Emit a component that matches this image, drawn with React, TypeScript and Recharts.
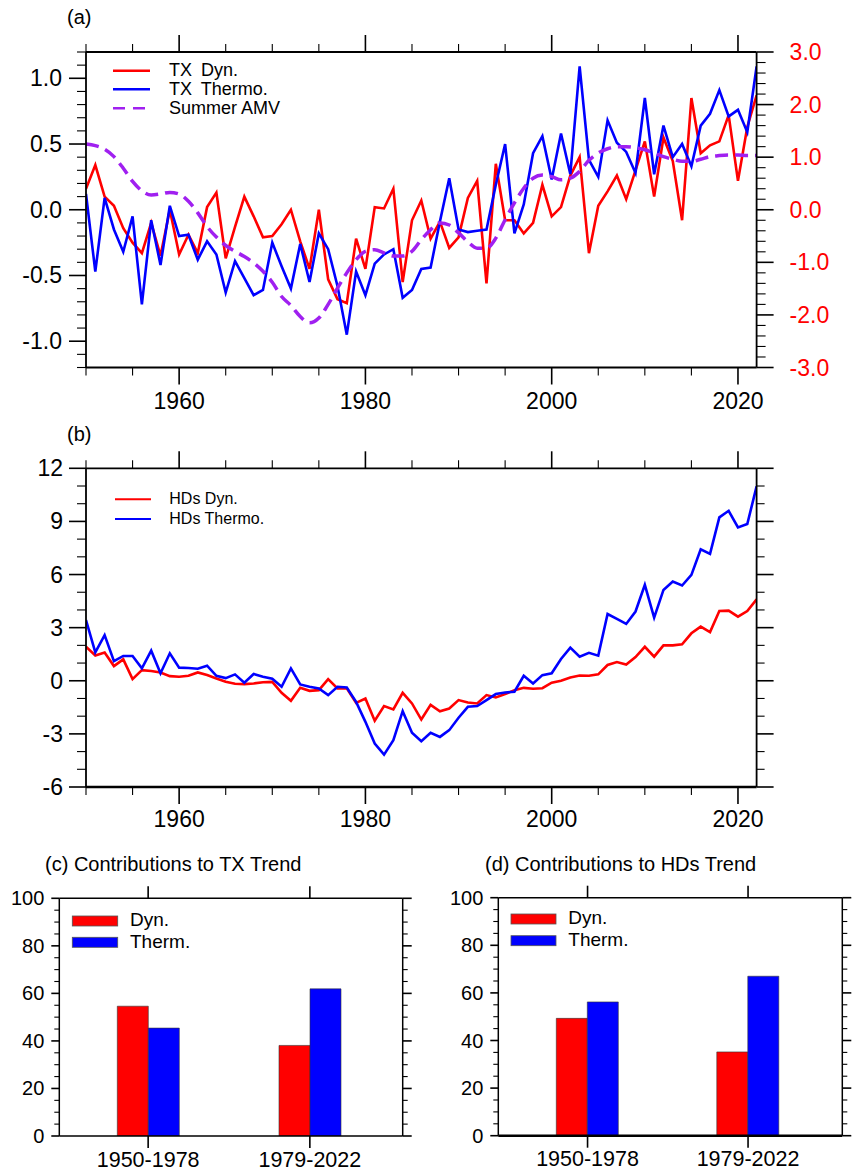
import React from 'react';
import { LineChart, Line, XAxis, YAxis, BarChart, Bar } from 'recharts';

const FONT = '"Liberation Sans", Arial, Helvetica, sans-serif';

// ---------- data ----------
const years: number[] = Array.from({ length: 73 }, (_, i) => 1950 + i);

const txDyn = [
  0.16, 0.34, 0.10, 0.03, -0.14, -0.25, -0.33, -0.10, -0.35, 0.00,
  -0.34, -0.19, -0.33, 0.02, 0.13, -0.37, -0.13, 0.10, -0.05, -0.21,
  -0.20, -0.11, 0.00, -0.24, -0.45, 0.00, -0.53, -0.68, -0.71, -0.22,
  -0.45, 0.02, 0.01, 0.16, -0.55, -0.08, 0.07, -0.22, -0.09, -0.29,
  -0.21, 0.09, 0.22, -0.56, 0.35, -0.08, -0.08, -0.18, -0.10, 0.19,
  -0.05, 0.02, 0.26, 0.40, -0.33, 0.03, 0.14, 0.26, 0.08, 0.30,
  0.52, 0.10, 0.55, 0.37, -0.08, 0.85, 0.43, 0.49, 0.52, 0.72,
  0.22, 0.63, 0.87,
];
const txThermo = [
  0.12, -0.47, 0.09, -0.15, -0.32, -0.05, -0.72, -0.08, -0.42, 0.03,
  -0.20, -0.19, -0.38, -0.24, -0.34, -0.63, -0.39, -0.52, -0.65, -0.61,
  -0.25, -0.43, -0.60, -0.26, -0.55, -0.18, -0.30, -0.58, -0.95, -0.47,
  -0.65, -0.41, -0.34, -0.30, -0.67, -0.61, -0.45, -0.44, -0.09, 0.24,
  -0.15, -0.17, -0.16, -0.15, 0.19, 0.50, -0.18, 0.04, 0.43, 0.56,
  0.23, 0.58, 0.27, 1.09, 0.38, 0.25, 0.68, 0.51, 0.44, 0.28,
  0.85, 0.27, 0.64, 0.40, 0.50, 0.33, 0.64, 0.73, 0.91, 0.71,
  0.76, 0.59, 1.09,
];
const summerAMV = [
  1.25, 1.22, 1.15, 1.01, 0.79, 0.54, 0.36, 0.28, 0.30, 0.33,
  0.30, 0.16, -0.06, -0.32, -0.52, -0.68, -0.79, -0.89, -1.01, -1.17,
  -1.38, -1.65, -1.82, -2.03, -2.15, -2.06, -1.80, -1.49, -1.20, -0.95,
  -0.79, -0.76, -0.82, -0.88, -0.88, -0.79, -0.57, -0.38, -0.25, -0.29,
  -0.44, -0.61, -0.73, -0.73, -0.54, -0.19, 0.13, 0.41, 0.60, 0.66,
  0.63, 0.57, 0.60, 0.73, 0.94, 1.08, 1.16, 1.20, 1.20, 1.18,
  1.14, 1.08, 1.01, 0.96, 0.92, 0.92, 0.96, 1.01, 1.03, 1.04,
  1.04, 1.03, 1.03,
];
const hdsDyn = [
  1.92, 1.43, 1.60, 0.83, 1.21, 0.09, 0.60, 0.55, 0.47, 0.26,
  0.23, 0.28, 0.47, 0.32, 0.13, -0.06, -0.17, -0.19, -0.15, -0.08,
  -0.06, -0.68, -1.13, -0.40, -0.57, -0.53, 0.09, -0.43, -0.43, -1.25,
  -1.00, -2.26, -1.43, -1.62, -0.68, -1.28, -2.19, -1.36, -1.72, -1.57,
  -1.09, -1.23, -1.28, -0.81, -0.94, -0.75, -0.53, -0.40, -0.45, -0.42,
  -0.11, 0.00, 0.19, 0.30, 0.28, 0.36, 0.89, 1.06, 0.92, 1.34,
  1.92, 1.36, 2.00, 2.00, 2.06, 2.68, 3.06, 2.75, 3.94, 3.96,
  3.62, 3.94, 4.60,
];
const hdsThermo = [
  3.43, 1.60, 2.58, 1.11, 1.40, 1.40, 0.70, 1.70, 0.42, 1.55,
  0.74, 0.72, 0.68, 0.85, 0.28, 0.15, 0.36, -0.11, 0.38, 0.23,
  0.11, -0.34, 0.70, -0.21, -0.34, -0.43, -0.81, -0.34, -0.38, -1.19,
  -2.32, -3.55, -4.17, -3.36, -1.72, -2.94, -3.42, -2.94, -3.17, -2.79,
  -2.09, -1.47, -1.43, -1.09, -0.75, -0.66, -0.62, 0.28, -0.15, 0.32,
  0.42, 1.23, 1.87, 1.36, 1.58, 1.42, 3.77, 3.49, 3.21, 3.91,
  5.42, 3.57, 5.13, 5.60, 5.38, 5.98, 7.43, 7.17, 9.23, 9.60,
  8.66, 8.85, 10.98,
];

const periods = ['1950-1978', '1979-2022'];
const txTrendDyn = [54.6, 38.1];
const txTrendTherm = [45.4, 61.9];
const hdsTrendDyn = [49.3, 35.2];
const hdsTrendTherm = [56.2, 67.0];

// ---------- ticks ----------
const range = (a: number, b: number, s: number) => {
  const out: number[] = [];
  for (let v = a; v <= b + s / 1000; v += s) out.push(Math.round(v * 1000) / 1000);
  return out;
};
const yearTicks = range(1950, 2020, 5);
const yearMajors = [1960, 1980, 2000, 2020];
const txTicks = range(-1.2, 1.2, 0.1);
const txMajors = [-1.0, -0.5, 0.0, 0.5, 1.0];
const amvTicks = range(-3, 3, 0.2);
const amvMajors = [-3, -2, -1, 0, 1, 2, 3];
const hdsTicks = range(-6, 12, 1);
const hdsMajors = [-6, -3, 0, 3, 6, 9, 12];
const pctTicks = range(0, 100, 5);
const pctMajors = [0, 20, 40, 60, 80, 100];

const rowsA = years.map((y, i) => ({ year: y, dyn: txDyn[i], thermo: txThermo[i], amv: summerAMV[i] }));
const rowsB = years.map((y, i) => ({ year: y, dyn: hdsDyn[i], thermo: hdsThermo[i] }));
const rowsC = periods.map((p, i) => ({ period: p, dyn: txTrendDyn[i], therm: txTrendTherm[i] }));
const rowsD = periods.map((p, i) => ({ period: p, dyn: hdsTrendDyn[i], therm: hdsTrendTherm[i] }));

type Side = 'bottom' | 'top' | 'left' | 'right';
interface TickOpts {
  side: Side;
  majors?: any[];
  majorLen: number;
  minorLen: number;
  label?: (v: any) => string;
  offset?: number;
  fontSize?: number;
  color?: string;
}
const isIn = (v: any, list?: any[]) =>
  !list ? true : list.some((m) => (typeof m === 'number' ? Math.abs(m - v) < 1e-6 : m === v));

function makeTick(o: TickOpts) {
  return (props: any) => {
    const { x, y, payload } = props;
    const v = payload.value;
    const major = isIn(v, o.majors);
    const len = major ? o.majorLen : o.minorLen;
    const txt = major && o.label ? o.label(v) : null;
    const off = o.offset ?? 0;
    let x2 = x, y2 = y, tx = x, ty = y;
    let anchor: any = 'middle';
    if (o.side === 'bottom') { y2 = y + len; ty = y + off; }
    else if (o.side === 'top') { y2 = y - len; ty = y - off; }
    else if (o.side === 'left') { x2 = x - len; tx = x - off; anchor = 'end'; }
    else { x2 = x + len; tx = x + off; anchor = 'start'; }
    return (
      <g>
        <line x1={x} y1={y} x2={x2} y2={y2} stroke="#000" strokeWidth={major ? 1.6 : 1.1} />
        {txt != null && (
          <text x={tx} y={ty} textAnchor={anchor} dominantBaseline="central" fontSize={o.fontSize} fill={o.color || '#000'} fontFamily={FONT}>
            {txt}
          </text>
        )}
      </g>
    );
  };
}

const frame = (w = 1.8) => ({ stroke: '#000', strokeWidth: w });

function PanelA() {
  return (
    <LineChart width={852} height={420} data={rowsA} margin={{ top: 51, left: 85, right: 94.4, bottom: 51.5 }}>
      <XAxis xAxisId="b" dataKey="year" type="number" domain={[1950, 2022]} allowDataOverflow ticks={yearTicks} interval={0}
        height={1} tickSize={0} tickMargin={0} tickLine={false} axisLine={frame()}
        tick={makeTick({ side: 'bottom', majors: yearMajors, majorLen: 17, minorLen: 8, label: (v) => String(v), offset: 33, fontSize: 23 })} />
      <XAxis xAxisId="t" orientation="top" dataKey="year" type="number" domain={[1950, 2022]} allowDataOverflow ticks={yearTicks} interval={0}
        height={1} tickSize={0} tickMargin={0} tickLine={false} axisLine={frame()}
        tick={makeTick({ side: 'top', majors: yearMajors, majorLen: 17, minorLen: 8 })} />
      <YAxis yAxisId="l" type="number" domain={[-1.2, 1.2]} allowDataOverflow ticks={txTicks} interval={0}
        width={1} tickSize={0} tickMargin={0} tickLine={false} axisLine={frame()}
        tick={makeTick({ side: 'left', majors: txMajors, majorLen: 17, minorLen: 9, label: (v) => Number(v).toFixed(1), offset: 24, fontSize: 23 })} />
      <YAxis yAxisId="r" orientation="right" type="number" domain={[-3, 3]} allowDataOverflow ticks={amvTicks} interval={0}
        width={1} tickSize={0} tickMargin={0} tickLine={false} axisLine={frame()}
        tick={makeTick({ side: 'right', majors: amvMajors, majorLen: 17, minorLen: 9, label: (v) => Number(v).toFixed(1), offset: 33, fontSize: 23, color: '#ff0000' })} />
      <Line xAxisId="b" yAxisId="l" dataKey="dyn" type="linear" stroke="#ff0000" strokeWidth={2.6} dot={false} activeDot={false} isAnimationActive={false} />
      <Line xAxisId="b" yAxisId="l" dataKey="thermo" type="linear" stroke="#0000ff" strokeWidth={2.6} dot={false} activeDot={false} isAnimationActive={false} />
      <Line xAxisId="t" yAxisId="r" dataKey="amv" type="monotone" stroke="#a020f0" strokeWidth={3.5} strokeDasharray="13 7" dot={false} activeDot={false} isAnimationActive={false} />
    </LineChart>
  );
}

function PanelB() {
  return (
    <LineChart width={852} height={420} data={rowsB} margin={{ top: 47.3, left: 85, right: 94.4, bottom: 52 }}>
      <XAxis xAxisId="b" dataKey="year" type="number" domain={[1950, 2022]} allowDataOverflow ticks={yearTicks} interval={0}
        height={1} tickSize={0} tickMargin={0} tickLine={false} axisLine={frame(2.6)}
        tick={makeTick({ side: 'bottom', majors: yearMajors, majorLen: 17, minorLen: 8, label: (v) => String(v), offset: 32, fontSize: 23 })} />
      <XAxis xAxisId="t" orientation="top" dataKey="year" type="number" domain={[1950, 2022]} allowDataOverflow ticks={yearTicks} interval={0}
        height={1} tickSize={0} tickMargin={0} tickLine={false} axisLine={frame()}
        tick={makeTick({ side: 'top', majors: yearMajors, majorLen: 17, minorLen: 8 })} />
      <YAxis yAxisId="l" type="number" domain={[-6, 12]} allowDataOverflow ticks={hdsTicks} interval={0}
        width={1} tickSize={0} tickMargin={0} tickLine={false} axisLine={frame()}
        tick={makeTick({ side: 'left', majors: hdsMajors, majorLen: 17, minorLen: 9, label: (v) => String(v), offset: 23, fontSize: 23 })} />
      <YAxis yAxisId="r" orientation="right" type="number" domain={[-6, 12]} allowDataOverflow ticks={hdsTicks} interval={0}
        width={1} tickSize={0} tickMargin={0} tickLine={false} axisLine={frame()}
        tick={makeTick({ side: 'right', majors: hdsMajors, majorLen: 17, minorLen: 8 })} />
      <Line xAxisId="b" yAxisId="l" dataKey="dyn" type="linear" stroke="#ff0000" strokeWidth={2.6} dot={false} activeDot={false} isAnimationActive={false} />
      <Line xAxisId="t" yAxisId="r" dataKey="thermo" type="linear" stroke="#0000ff" strokeWidth={2.6} dot={false} activeDot={false} isAnimationActive={false} />
    </LineChart>
  );
}

function BarPanel({ data, margin, padding, bottomW }: { data: any[]; margin: any; padding: any; bottomW: number }) {
  return (
    <BarChart width={426} height={331} data={data} margin={margin} barGap={0} barSize={31}>
      <XAxis xAxisId="b" dataKey="period" type="category" padding={padding} interval={0}
        height={1} tickSize={0} tickMargin={0} tickLine={false} axisLine={frame(bottomW)}
        tick={makeTick({ side: 'bottom', majorLen: 12, minorLen: 12, label: (v) => String(v), offset: 23.5, fontSize: 21.5 })} />
      <XAxis xAxisId="t" orientation="top" dataKey="period" type="category" padding={padding} interval={0}
        height={1} tickSize={0} tickMargin={0} tickLine={false} axisLine={frame(1.5)}
        tick={makeTick({ side: 'top', majorLen: 12, minorLen: 12 })} />
      <YAxis yAxisId="l" type="number" domain={[0, 100]} allowDataOverflow ticks={pctTicks} interval={0}
        width={1} tickSize={0} tickMargin={0} tickLine={false} axisLine={frame(1.5)}
        tick={makeTick({ side: 'left', majors: pctMajors, majorLen: 8, minorLen: 5, label: (v) => String(v), offset: 15, fontSize: 20 })} />
      <YAxis yAxisId="r" orientation="right" type="number" domain={[0, 100]} allowDataOverflow ticks={pctTicks} interval={0}
        width={1} tickSize={0} tickMargin={0} tickLine={false} axisLine={frame(1.5)}
        tick={makeTick({ side: 'right', majors: pctMajors, majorLen: 9, minorLen: 5 })} />
      <Bar xAxisId="b" yAxisId="l" dataKey="dyn" fill="#ff0000" stroke="#333" strokeWidth={0.6} isAnimationActive={false} />
      <Bar xAxisId="b" yAxisId="l" dataKey="therm" fill="#0000ff" stroke="#333" strokeWidth={0.6} isAnimationActive={false} />
    </BarChart>
  );
}

function Overlay() {
  const t = { fontFamily: FONT, fill: '#000' };
  return (
    <svg width={852} height={1171} style={{ position: 'absolute', left: 0, top: 0, pointerEvents: 'none' }}>
      <text x={67} y={24.3} fontSize={20} {...t}>(a)</text>
      <text x={67} y={441} fontSize={20} {...t}>(b)</text>
      {/* legend a */}
      <line x1={113} x2={150} y1={70.7} y2={70.7} stroke="#ff0000" strokeWidth={2.4} />
      <line x1={113} x2={150} y1={89.3} y2={89.3} stroke="#0000ff" strokeWidth={2.4} />
      <line x1={113} x2={150} y1={108.3} y2={108.3} stroke="#a020f0" strokeWidth={2.4} strokeDasharray="12 8" />
      <text x={169} y={76} fontSize={18} style={{ wordSpacing: '4px' }} {...t}>TX Dyn.</text>
      <text x={169} y={95} fontSize={18} style={{ wordSpacing: '4px' }} {...t}>TX Thermo.</text>
      <text x={169} y={114.3} fontSize={18} {...t}>Summer AMV</text>
      {/* legend b */}
      <line x1={115} x2={151} y1={499.3} y2={499.3} stroke="#ff0000" strokeWidth={2} />
      <line x1={115} x2={151} y1={519} y2={519} stroke="#0000ff" strokeWidth={2} />
      <text x={169.3} y={504} fontSize={16} {...t}>HDs Dyn.</text>
      <text x={169.3} y={524} fontSize={16} {...t}>HDs Thermo.</text>
      {/* titles c, d */}
      <text x={45} y={871} fontSize={20} {...t}>(c) Contributions to TX Trend</text>
      <text x={485} y={871} fontSize={20} {...t}>(d) Contributions to HDs Trend</text>
      {/* legend c */}
      <rect x={72.3} y={916} width={45.4} height={10} fill="#ff0000" stroke="#555" strokeWidth={0.8} />
      <rect x={72.3} y={937.3} width={45.4} height={10} fill="#0000ff" stroke="#555" strokeWidth={0.8} />
      <text x={130} y={926} fontSize={19} {...t}>Dyn.</text>
      <text x={130} y={948.3} fontSize={19} {...t}>Therm.</text>
      {/* legend d */}
      <rect x={511} y={914} width={45} height={10} fill="#ff0000" stroke="#555" strokeWidth={0.8} />
      <rect x={511} y={935.7} width={45} height={10} fill="#0000ff" stroke="#555" strokeWidth={0.8} />
      <text x={568.3} y={924} fontSize={19} {...t}>Dyn.</text>
      <text x={568.3} y={946} fontSize={19} {...t}>Therm.</text>
    </svg>
  );
}

export default function App() {
  return (
    <div style={{ position: 'absolute', left: 0, top: 0, width: 852, height: 1171, background: '#fff', overflow: 'hidden' }}>
      <div style={{ position: 'absolute', left: 0, top: 0 }}><PanelA /></div>
      <div style={{ position: 'absolute', left: 0, top: 420 }}><PanelB /></div>
      <div style={{ position: 'absolute', left: 0, top: 840 }}>
        <BarPanel data={rowsC} margin={{ top: 57.3, left: 58.3, right: 22.3, bottom: 34 }} padding={{ left: 8, right: 12 }} bottomW={1.5} />
      </div>
      <div style={{ position: 'absolute', left: 426, top: 840 }}>
        <BarPanel data={rowsD} margin={{ top: 56.7, left: 71.3, right: 8.7, bottom: 34.3 }} padding={{ left: 9, right: 14 }} bottomW={2.6} />
      </div>
      <Overlay />
    </div>
  );
}
